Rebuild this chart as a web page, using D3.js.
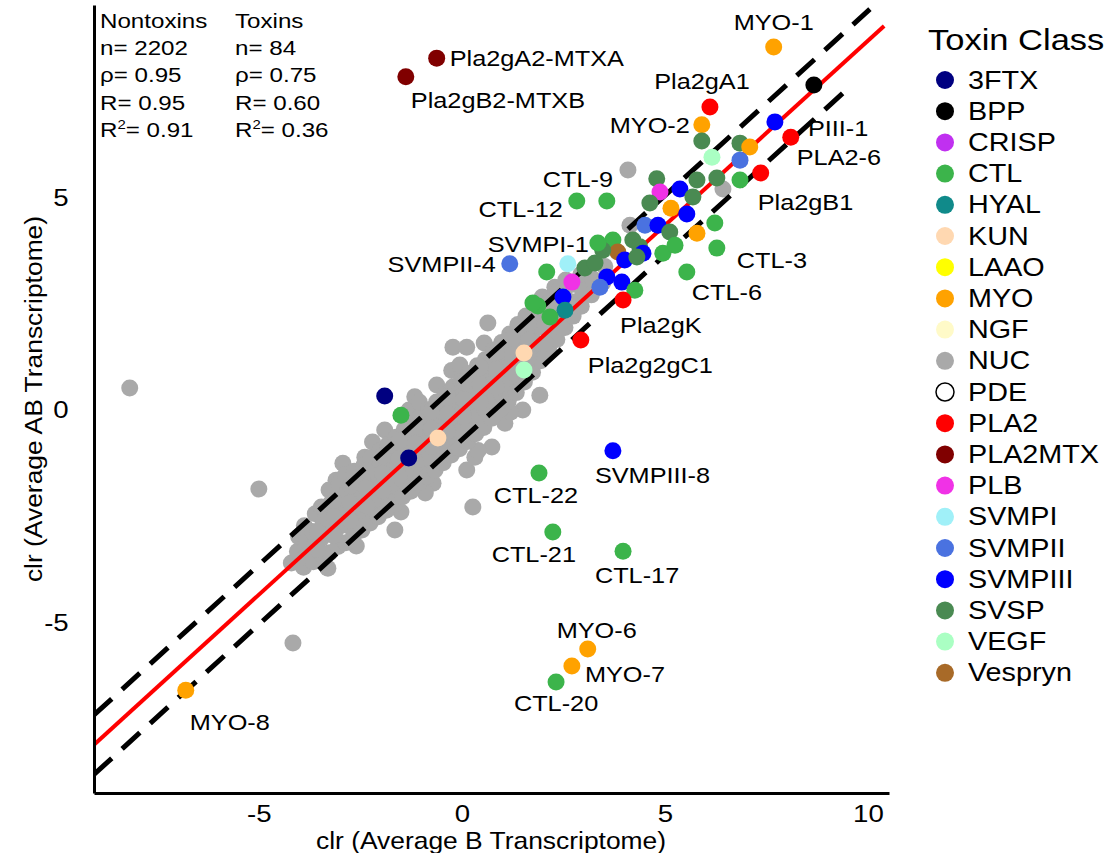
<!DOCTYPE html>
<html>
<head>
<meta charset="utf-8">
<script src="https://cdn.jsdelivr.net/npm/d3@7"></script>
<style>
  body { margin: 0; background: #fff; }
  svg { font-family: "Liberation Sans", Arial, sans-serif; }
</style>
</head>
<body>
<div class="canvas"></div>
<script>
// toxin classes + legend colours
const toxinClasses = ['3FTX', 'BPP', 'CRISP', 'CTL', 'HYAL', 'KUN', 'LAAO', 'MYO', 'NGF', 'NUC',
  'PDE', 'PLA2', 'PLA2MTX', 'PLB', 'SVMPI', 'SVMPII', 'SVMPIII', 'SVSP', 'VEGF', 'Vespryn'];
const classColors = ['#000080', '#000000', '#c030f0', '#3cb44b', '#108a8a', '#ffd8b1', '#ffff00', '#ffa200', '#fffac8', '#a9a9a9',
  '#ffffff', '#ff0000', '#800000', '#f032e6', '#a0f0f8', '#4a72e0', '#0000ff', '#4a8a52', '#aaffc3', '#a86a28'];

// toxin transcripts (clr B, clr AB)
const toxinClass = ['MYO', 'BPP', 'SVMPIII', 'PLA2', 'PLA2', 'MYO', 'SVSP', 'VEGF', 'SVSP', 'MYO',
  'SVMPII', 'PLA2', 'CTL', 'SVSP', 'SVSP', 'SVSP', 'PLB', 'SVMPIII', 'SVSP', 'SVSP',
  'MYO', 'SVMPIII', 'CTL', 'CTL', 'CTL', 'SVMPII', 'SVMPIII', 'SVSP', 'MYO', 'CTL',
  'CTL', 'CTL', 'CTL', 'CTL', 'SVSP', 'Vespryn', 'SVSP', 'SVMPIII', 'SVMPIII', 'SVSP',
  'SVSP', 'SVSP', 'SVSP', 'CTL', 'SVMPIII', 'SVMPIII', 'SVMPII', 'CTL', 'SVMPIII', 'CTL',
  'PLA2', 'CTL', 'HYAL', 'CTL', 'CTL', 'SVMPII', 'SVMPI', 'PLB', 'PLA2', 'KUN',
  'VEGF', '3FTX', 'CTL', 'KUN', '3FTX', 'CTL', 'SVMPIII', 'CTL', 'CTL', 'MYO',
  'MYO', 'CTL', 'MYO', 'PLA2MTX', 'PLA2MTX'];
const toxinX = [7.68, 8.67, 7.71, 8.10, 6.11, 5.91, 5.91, 6.16, 6.85, 7.09,
  6.85, 7.36, 6.85, 6.28, 5.79, 4.80, 4.88, 5.37, 5.69, 4.63,
  5.15, 5.54, 6.23, 2.83, 3.57, 4.51, 4.83, 5.12, 5.79, 6.28,
  4.95, 5.25, 5.54, 3.72, 4.21, 3.84, 4.38, 4.46, 4.01, 4.31,
  3.03, 3.28, 3.47, 3.35, 3.57, 3.94, 3.40, 4.26, 2.49, 2.09,
  3.97, 1.87, 2.54, 2.17, 1.75, 1.18, 2.61, 2.71, 2.93, 1.53,
  1.53, -1.90, -1.50, -0.59, -1.31, 1.90, 3.72, 2.24, 3.97, 3.10,
  2.71, 2.32, -6.80, -0.62, -1.38];
const toxinY = [8.54, 7.65, 6.78, 6.42, 7.13, 6.71, 6.33, 5.95, 6.28, 6.19,
  5.88, 5.58, 5.41, 5.46, 5.41, 5.44, 5.13, 5.20, 5.01, 4.87,
  4.75, 4.61, 4.40, 4.92, 4.92, 4.35, 4.35, 4.19, 4.16, 3.81,
  3.69, 3.88, 3.25, 4.00, 4.00, 3.72, 3.84, 3.69, 3.53, 3.60,
  3.34, 3.46, 3.76, 3.93, 3.13, 3.01, 2.89, 2.82, 2.66, 3.25,
  2.59, 2.45, 2.35, 2.19, 2.52, 3.44, 3.44, 3.01, 1.65, 1.34,
  0.94, 0.33, -0.12, -0.66, -1.13, -1.48, -0.96, -2.87, -3.32, -5.62,
  -6.02, -6.40, -6.59, 8.28, 7.84];
const toxinName = ['MYO-1', '', 'PIII-1', 'PLA2-6', 'Pla2gA1', 'MYO-2', '', '', '', '',
  '', 'Pla2gB1', '', '', '', '', '', '', '', '',
  '', '', '', 'CTL-12', 'CTL-9', '', '', '', '', 'CTL-3',
  '', '', 'CTL-6', '', '', '', '', '', '', '',
  '', '', '', '', '', '', '', '', '', '',
  'Pla2gK', '', '', '', '', 'SVMPII-4', 'SVMPI-1', '', 'Pla2g2gC1', '',
  '', '', '', '', '', 'CTL-22', 'SVMPIII-8', 'CTL-21', 'CTL-17', 'MYO-6',
  'MYO-7', 'CTL-20', 'MYO-8', 'Pla2gA2-MTXA', 'Pla2gB2-MTXB'];

// nontoxin transcripts (NUC)
const nucPoints = [
  [-8.18, 0.52], [-5.0, -1.86], [-4.16, -5.48], [-2.93, -1.25], [-3.10, -1.65], [-2.39, -1.11], [-1.9, -0.47],
  [-1.16, 0.31], [-0.62, 0.59], [-0.22, 1.48], [0.12, 1.48], [0.64, 2.05], [1.92, 0.35], [1.5, 0.0],
  [1.06, -0.31], [0.74, -0.87], [0.12, -1.41], [0.32, -1.11], [-0.71, -1.72], [-1.65, -2.82], [0.27, -2.28],
  [2.29, 2.89], [3.03, 2.94], [4.14, 4.35], [6.43, 5.2], [4.09, 5.65],
  [-3.9, -3.7], [-4.2, -3.6], [-3.3, -3.72], [-2.6, -3.2], [-1.5, -2.4], [-0.9, -1.95], [0.4, -0.95],
  [1.2, -0.05], [-2.2, -0.75], [-1.3, 0.0],
  [-4.05, -3.33], [-4.02, -2.98],
  [-3.86, -3.46], [-3.83, -3.08], [-3.88, -2.72],
  [-3.66, -3.57], [-3.63, -3.18], [-3.68, -2.86], [-3.61, -2.44],
  [-3.44, -3.42], [-3.47, -3.03], [-3.42, -2.67], [-3.46, -2.28],
  [-3.26, -3.36], [-3.23, -2.93], [-3.28, -2.57], [-3.22, -2.18], [-3.27, -1.88],
  [-3.05, -3.21], [-3.08, -2.79], [-3.03, -2.44], [-3.06, -2.07], [-3.02, -1.72],
  [-2.86, -3.12], [-2.83, -2.71], [-2.88, -2.29], [-2.84, -1.96], [-2.87, -1.53],
  [-2.66, -2.94], [-2.63, -2.56], [-2.67, -2.14], [-2.62, -1.81], [-2.65, -1.44],
  [-2.46, -2.82], [-2.43, -2.38], [-2.47, -2.06], [-2.44, -1.64], [-2.42, -1.31],
  [-2.26, -2.66], [-2.23, -2.24], [-2.27, -1.86], [-2.22, -1.49], [-2.25, -1.12],
  [-2.06, -2.51], [-2.03, -2.11], [-2.07, -1.74], [-2.04, -1.36], [-2.02, -0.96],
  [-1.86, -2.36], [-1.83, -1.94], [-1.87, -1.56], [-1.84, -1.19], [-1.82, -0.81],
  [-1.66, -2.21], [-1.63, -1.79], [-1.67, -1.41], [-1.64, -1.01], [-1.62, -0.64],
  [-1.46, -2.04], [-1.43, -1.66], [-1.47, -1.24], [-1.44, -0.86], [-1.42, -0.46],
  [-1.26, -1.91], [-1.23, -1.49], [-1.27, -1.11], [-1.24, -0.69], [-1.22, -0.31],
  [-1.06, -1.71], [-1.03, -1.31], [-1.07, -0.94], [-1.04, -0.56], [-1.02, -0.16], [-1.05, 0.19],
  [-0.86, -1.56], [-0.83, -1.14], [-0.87, -0.76], [-0.84, -0.39], [-0.82, 0.01],
  [-0.66, -1.41], [-0.63, -0.99], [-0.67, -0.61], [-0.64, -0.21], [-0.62, 0.19],
  [-0.46, -1.24], [-0.43, -0.86], [-0.47, -0.44], [-0.44, -0.06], [-0.42, 0.36],
  [-0.26, -1.06], [-0.23, -0.64], [-0.27, -0.26], [-0.24, 0.16], [-0.22, 0.54], [-0.25, 0.93],
  [-0.06, -0.91], [-0.03, -0.49], [-0.07, -0.11], [-0.04, 0.31], [-0.02, 0.69], [-0.05, 1.06],
  [0.14, -0.74], [0.17, -0.36], [0.13, 0.06], [0.16, 0.44], [0.18, 0.86],
  [0.34, -0.56], [0.37, -0.14], [0.33, 0.24], [0.36, 0.66], [0.38, 1.04],
  [0.54, -0.41], [0.57, 0.01], [0.53, 0.39], [0.56, 0.81], [0.58, 1.19], [0.55, 1.58],
  [0.74, -0.19], [0.77, 0.21], [0.73, 0.61], [0.76, 0.99], [0.78, 1.41],
  [0.94, 0.01], [0.97, 0.39], [0.93, 0.81], [0.96, 1.21], [0.98, 1.59],
  [1.14, 0.21], [1.17, 0.61], [1.13, 0.99], [1.16, 1.41], [1.18, 1.79],
  [1.34, 0.41], [1.37, 0.79], [1.33, 1.21], [1.36, 1.59], [1.38, 2.01],
  [1.54, 0.66], [1.57, 1.04], [1.53, 1.46], [1.56, 1.84], [1.58, 2.21],
  [1.74, 0.89], [1.77, 1.31], [1.73, 1.69], [1.76, 2.11], [1.78, 2.44],
  [1.94, 1.16], [1.97, 1.54], [1.93, 1.96], [1.96, 2.29], [1.98, 2.66],
  [2.14, 1.41], [2.17, 1.79], [2.13, 2.21], [2.16, 2.54],
  [2.34, 1.66], [2.37, 2.04], [2.33, 2.46], [2.36, 2.79],
  [2.54, 1.94], [2.57, 2.31], [2.53, 2.69], [2.56, 3.06],
  [2.74, 2.21], [2.77, 2.54], [2.73, 2.96],
  [2.94, 2.44], [2.97, 2.81], [2.93, 3.19],
  [3.19, 2.71], [3.22, 3.09],
  [3.48, 3.01], [3.52, 3.38],
  // fill in the dense core
  [-3.55, -3.28], [-3.55, -2.87],
  [-3.15, -2.95], [-3.15, -2.52], [-3.15, -2.12],
  [-2.75, -2.6], [-2.75, -2.19], [-2.75, -1.78],
  [-2.35, -2.25], [-2.35, -1.84], [-2.35, -1.43],
  [-1.95, -1.9], [-1.95, -1.49], [-1.95, -1.08],
  [-1.55, -1.55], [-1.55, -1.14], [-1.55, -0.73],
  [-1.15, -1.2], [-1.15, -0.79], [-1.15, -0.38],
  [-0.75, -0.85], [-0.75, -0.44], [-0.75, -0.03],
  [-0.35, -0.5], [-0.35, -0.09], [-0.35, 0.32],
  [0.05, -0.16], [0.05, 0.25], [0.05, 0.66],
  [0.45, 0.19], [0.45, 0.6], [0.45, 1.01],
  [0.85, 0.54], [0.85, 0.95], [0.85, 1.36],
  [1.25, 0.88], [1.25, 1.29], [1.25, 1.7],
  [1.65, 1.23], [1.65, 1.64], [1.65, 2.05],
  [2.05, 1.58], [2.05, 1.99], [2.05, 2.4],
  [2.45, 1.93], [2.45, 2.34]
];

// regression line and band
const fitSlope = 0.869;
const fitIntercept = 0;
const bandHalfWidth = 0.7;
const fitEndX = 10.4, upperEndX = 10.05, lowerEndX = 9.56;

const xTicks = [-5, 0, 5, 10];
const yTicks = [-5, 0, 5];
const xDomain = [-9.06, 10.52];
const yDomain = [-9.01, 9.53];

// stats block
const statsHeads = ['Nontoxins', 'Toxins'];
const statsN = ['2202', '84'];
const statsRho = ['0.95', '0.75'];
const statsR = ['0.95', '0.60'];
const statsR2 = ['0.91', '0.36'];

const margin = { top: 5, right: 218, bottom: 60, left: 94 };
const graphWidth = 1107 - margin.left - margin.right;
const graphHeight = 853 - margin.top - margin.bottom;
const stretch = 1.15; // the source text is a bit wide

const svg = d3.select('.canvas')
  .append('svg')
  .attr('width', 1107)
  .attr('height', 853);

const graph = svg.append('g')
  .attr('transform', `translate(${margin.left}, ${margin.top})`);

const x = d3.scaleLinear().domain(xDomain).range([0, graphWidth]);
const y = d3.scaleLinear().domain(yDomain).range([graphHeight, 0]);
const color = d3.scaleOrdinal().domain(toxinClasses).range(classColors);

graph.append('clipPath').attr('id', 'plot-clip')
  .append('rect').attr('width', graphWidth).attr('height', graphHeight);

const wideText = (sel, px, py, str, size, anchor) => sel.append('text')
  .attr('transform', `translate(${px}, ${py}) scale(${stretch}, 1)`)
  .attr('font-size', size)
  .attr('text-anchor', anchor || 'start')
  .attr('fill', '#000')
  .text(str);

// grey nontoxins first
graph.append('g').selectAll('circle')
  .data(nucPoints)
  .enter().append('circle')
    .attr('cx', d => x(d[0]))
    .attr('cy', d => y(d[1]))
    .attr('r', 8.5)
    .attr('fill', color('NUC'));

// fit line + dashed band
const lines = graph.append('g').attr('clip-path', 'url(#plot-clip)');
const fitLine = d3.line().x(d => x(d)).y(d => y(fitSlope * d + fitIntercept));
lines.append('path')
  .attr('d', d3.line().x(d => x(d)).y(d => y(fitSlope * d + fitIntercept + bandHalfWidth))([xDomain[0], upperEndX]))
  .attr('fill', 'none').attr('stroke', '#000').attr('stroke-width', 5).attr('stroke-dasharray', '24,14');
lines.append('path')
  .attr('d', d3.line().x(d => x(d)).y(d => y(fitSlope * d + fitIntercept - bandHalfWidth))([xDomain[0], lowerEndX]))
  .attr('fill', 'none').attr('stroke', '#000').attr('stroke-width', 5).attr('stroke-dasharray', '24,14');

// toxins
const toxins = toxinClass.map((c, i) => ({ cls: c, x: toxinX[i], y: toxinY[i], name: toxinName[i] }));
graph.append('g').selectAll('circle')
  .data(toxins)
  .enter().append('circle')
    .attr('cx', d => x(d.x))
    .attr('cy', d => y(d.y))
    .attr('r', 8.5)
    .attr('fill', d => color(d.cls));

lines.append('path')
  .attr('d', fitLine([xDomain[0], fitEndX]))
  .attr('fill', 'none').attr('stroke', '#f00').attr('stroke-width', 4);

// label placement (px offsets from the point)
const labelPos = {
  'MYO-1': [0, -17, 'middle'], 'Pla2gA1': [-8, -18, 'middle'], 'MYO-2': [-12, 8, 'end'],
  'PIII-1': [33, 14, 'start'], 'PLA2-6': [6, 28, 'start'], 'Pla2gB1': [-3, 37, 'start'],
  'CTL-9': [-64, -14, 'start'], 'CTL-12': [-14, 16, 'end'], 'SVMPI-1': [21, -12, 'end'],
  'SVMPII-4': [-14, 8, 'end'], 'CTL-3': [20, 20, 'start'], 'CTL-6': [5, 28, 'start'],
  'Pla2gK': [-3, 33, 'start'], 'Pla2g2gC1': [7, 33, 'start'], 'SVMPIII-8': [-18, 32, 'start'],
  'CTL-22': [-3, 30, 'middle'], 'CTL-21': [-19, 30, 'middle'], 'CTL-17': [14, 32, 'middle'],
  'MYO-6': [9, -11, 'middle'], 'MYO-7': [13, 16, 'start'], 'CTL-20': [0, 29, 'middle'],
  'MYO-8': [4, 40, 'start'], 'Pla2gA2-MTXA': [13, 8, 'start'], 'Pla2gB2-MTXB': [5, 31, 'start']
};
const labels = graph.append('g');
toxins.filter(d => d.name).forEach(d => {
  const p = labelPos[d.name];
  wideText(labels, x(d.x) + p[0], y(d.y) + p[1], d.name, 22, p[2]);
});

// axes
const xAxis = d3.axisBottom(x).tickValues(xTicks).tickSize(0).tickPadding(12).tickFormat(d => String(d));
const yAxis = d3.axisLeft(y).tickValues(yTicks).tickSize(0).tickPadding(22).tickFormat(d => String(d));

const xAxisGroup = graph.append('g')
  .attr('transform', `translate(0, ${graphHeight})`)
  .call(xAxis);
const yAxisGroup = graph.append('g').call(yAxis);

[xAxisGroup, yAxisGroup].forEach(g => {
  g.select('.domain').attr('stroke', '#000').attr('stroke-width', 3);
  g.selectAll('text')
    .attr('font-size', 24)
    .attr('fill', '#000')
    .attr('font-family', '"Liberation Sans", Arial, sans-serif')
    .attr('transform', `scale(${stretch}, 1)`);
});

// axis titles
svg.append('text')
  .attr('transform', 'translate(491, 849) scale(1.1, 1)')
  .attr('font-size', 24)
  .attr('text-anchor', 'middle')
  .attr('fill', '#000')
  .text('clr (Average B Transcriptome)');
svg.append('text')
  .attr('transform', 'translate(42, 399) rotate(-90) scale(1.1, 1)')
  .attr('font-size', 24)
  .attr('text-anchor', 'middle')
  .attr('fill', '#000')
  .text('clr (Average AB Transcriptome)');

// stats block
const statsCols = [100, 235];
const statsTop = 28, statsStep = 27.2;
statsHeads.forEach((h, i) => {
  const cx = statsCols[i];
  wideText(svg, cx, statsTop, h, 21);
  wideText(svg, cx, statsTop + statsStep, 'n= ' + statsN[i], 21);
  wideText(svg, cx, statsTop + statsStep * 2, 'ρ= ' + statsRho[i], 21);
  wideText(svg, cx, statsTop + statsStep * 3, 'R= ' + statsR[i], 21);
  const t = wideText(svg, cx, statsTop + statsStep * 4, 'R', 21);
  t.append('tspan').attr('font-size', 13).attr('dy', -8).text('2');
  t.append('tspan').attr('dy', 8).text('= ' + statsR2[i]);
});

// legend
const legend = svg.append('g');
wideText(legend, 928, 50, 'Toxin Class', 30);
toxinClasses.forEach((c, i) => {
  const ly = 80 + i * 31.2;
  legend.append('circle')
    .attr('cx', 945).attr('cy', ly).attr('r', 9)
    .attr('fill', color(c))
    .attr('stroke', c === 'PDE' ? '#000' : 'none')
    .attr('stroke-width', 1.5);
  wideText(legend, 968, ly + 8.5, c, 25);
});
</script>
</body>
</html>
